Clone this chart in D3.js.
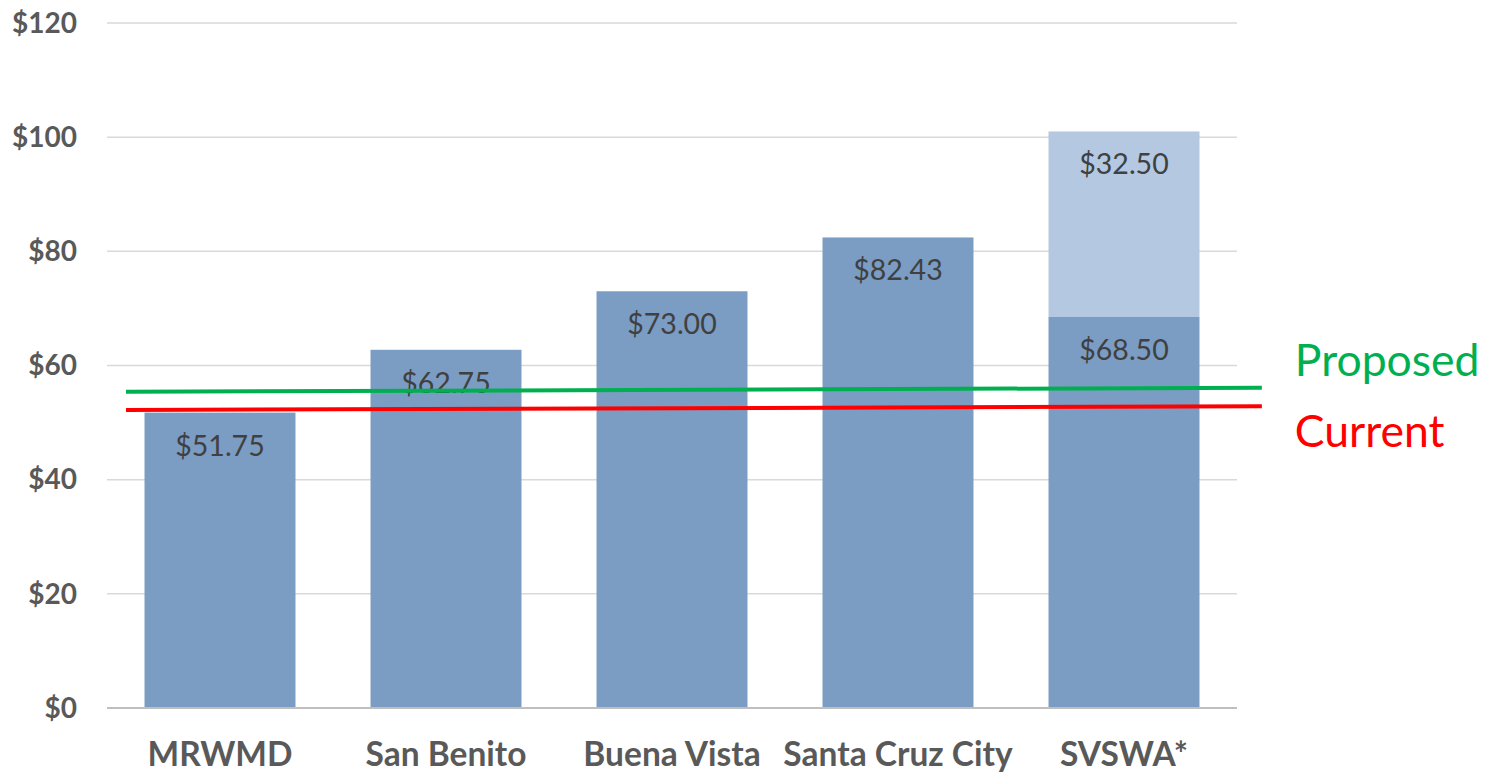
<!DOCTYPE html>
<html>
<head>
<meta charset="utf-8">
<script src="https://cdn.jsdelivr.net/npm/d3@7.9.0/dist/d3.min.js"></script>
<style>
  html, body { margin: 0; padding: 0; background: #fff; }
  svg { display: block; }
</style>
</head>
<body>
<svg id="chart" width="1486" height="774"></svg>
<script>
// data
const categories = ["MRWMD", "San Benito", "Buena Vista", "Santa Cruz City", "SVSWA*"];
const baseValues = [51.75, 62.75, 73.00, 82.43, 68.50];
const extraValues = [0, 0, 0, 0, 32.50];
const yTicks = [0, 20, 40, 60, 80, 100, 120];
// reference lines: value at left end, value at right end
const currentLine = [52.2, 52.85];
const proposedLine = [55.4, 56.1];

const svg = d3.select("#chart");
const plotLeft = 107, plotRight = 1237, plotTop = 23, plotBottom = 708;

const x = d3.scaleBand()
    .domain(categories)
    .range([plotLeft, plotRight])
    .paddingInner(0.332)
    .paddingOuter(0.166);

const y = d3.scaleLinear().domain([0, 120]).range([plotBottom, plotTop]);

// position along category axis (in category units) for the reference lines
const xPos = d3.scaleLinear().domain([0, categories.length]).range([plotLeft, plotRight]);
const lineSpan = [0.084, 5.11];

const fmt = v => "$" + d3.format(",.2f")(v);
const labelFont = "Lato, 'Open Sans', sans-serif";

// gridlines
svg.append("g")
    .selectAll("line")
    .data(yTicks.filter(d => d > 0))
    .enter().append("line")
    .attr("x1", plotLeft).attr("x2", plotRight)
    .attr("y1", d => y(d)).attr("y2", d => y(d))
    .attr("stroke", "#d9d9d9")
    .attr("stroke-width", 1.5);

// y tick labels
svg.append("g")
    .selectAll("text")
    .data(yTicks)
    .enter().append("text")
    .attr("x", 77)
    .attr("y", d => y(d))
    .attr("dy", "0.35em")
    .attr("text-anchor", "end")
    .attr("font-family", labelFont)
    .attr("font-weight", "bold")
    .attr("font-size", 28)
    .attr("fill", "#595959")
    .text(d => "$" + d);

// base bars
svg.append("g")
    .selectAll("rect")
    .data(categories)
    .enter().append("rect")
    .attr("x", d => x(d))
    .attr("y", (d, i) => y(baseValues[i]))
    .attr("width", x.bandwidth())
    .attr("height", (d, i) => y(0) - y(baseValues[i]))
    .attr("fill", "#7b9cc3");

// stacked extra bars
svg.append("g")
    .selectAll("rect")
    .data(categories.filter((d, i) => extraValues[i] > 0))
    .enter().append("rect")
    .attr("x", d => x(d))
    .attr("y", d => { const i = categories.indexOf(d); return y(baseValues[i] + extraValues[i]); })
    .attr("width", x.bandwidth())
    .attr("height", d => { const i = categories.indexOf(d); return y(baseValues[i]) - y(baseValues[i] + extraValues[i]); })
    .attr("fill", "#b4c8e1");

// baseline
svg.append("line")
    .attr("x1", plotLeft).attr("x2", plotRight)
    .attr("y1", y(0)).attr("y2", y(0))
    .attr("stroke", "#bfbfbf")
    .attr("stroke-width", 2);

// data labels
svg.append("g")
    .selectAll("text")
    .data(categories)
    .enter().append("text")
    .attr("x", d => x(d) + x.bandwidth() / 2)
    .attr("y", (d, i) => y(baseValues[i]) + 33)
    .attr("dy", "0.35em")
    .attr("text-anchor", "middle")
    .attr("font-family", labelFont)
    .attr("font-size", 28.5)
    .attr("fill", "#404040")
    .text((d, i) => fmt(baseValues[i]));

svg.append("g")
    .selectAll("text")
    .data(categories.filter((d, i) => extraValues[i] > 0))
    .enter().append("text")
    .attr("x", d => x(d) + x.bandwidth() / 2)
    .attr("y", d => { const i = categories.indexOf(d); return y(baseValues[i] + extraValues[i]) + 33; })
    .attr("dy", "0.35em")
    .attr("text-anchor", "middle")
    .attr("font-family", labelFont)
    .attr("font-size", 28.5)
    .attr("fill", "#404040")
    .text(d => fmt(extraValues[categories.indexOf(d)]));

// category labels
svg.append("g")
    .selectAll("text")
    .data(categories)
    .enter().append("text")
    .attr("x", d => x(d) + x.bandwidth() / 2)
    .attr("y", 766)
    .attr("text-anchor", "middle")
    .attr("font-family", labelFont)
    .attr("font-weight", "bold")
    .attr("font-size", 33.5)
    .attr("fill", "#595959")
    .text(d => d);

// reference lines
const refLines = [
    { name: "Proposed", vals: proposedLine, color: "#00b050", dy: -12 },
    { name: "Current", vals: currentLine, color: "#ff0000", dy: 41 }
];

refLines.forEach(r => {
    svg.append("line")
        .attr("x1", xPos(lineSpan[0])).attr("x2", xPos(lineSpan[1]))
        .attr("y1", y(r.vals[0])).attr("y2", y(r.vals[1]))
        .attr("stroke", r.color)
        .attr("stroke-width", 4);
    svg.append("text")
        .attr("x", xPos(lineSpan[1]) + 33)
        .attr("y", y(r.vals[1]) + r.dy)
        .attr("font-family", labelFont)
        .attr("font-size", 44.5)
        .attr("fill", r.color)
        .text(r.name);
});
</script>
</body>
</html>
